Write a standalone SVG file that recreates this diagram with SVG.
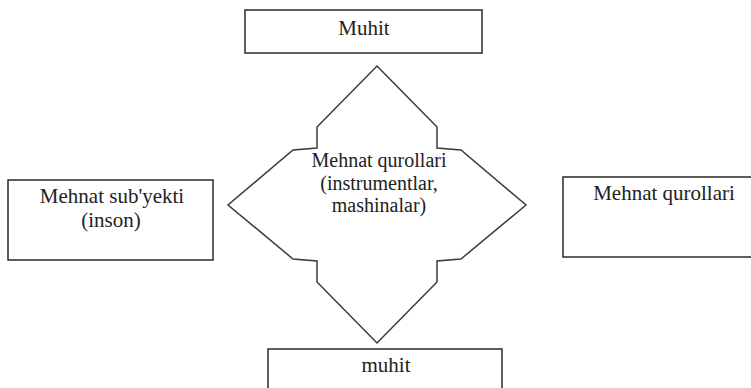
<svg xmlns="http://www.w3.org/2000/svg" width="751" height="388" viewBox="0 0 751 388">
<style>
.box{fill:#fff;stroke:#2a2a2a;stroke-width:1.5}
.shape{fill:#fff;stroke:#3a3a3a;stroke-width:1.5;stroke-linejoin:miter}
.t{font-family:'Liberation Serif','DejaVu Serif','Times New Roman',serif;font-size:21px;fill:#222;text-anchor:middle}
.c{font-size:20px}
</style>
<rect x="0" y="0" width="751" height="388" fill="#fff"/>
<g id="connectors"></g>
<g id="node-muhit-top">
<rect class="box" x="245" y="10" width="237" height="43"/>
<text class="t" x="364" y="35">Muhit</text>
</g>
<g id="node-center">
<path class="shape" d="M377,66 L437,127 L437,148 L461,150 L526,205 L461,259 L437,261 L437,282 L377,343 L317,282 L317,261 L293,259 L228,205 L293,150 L317,148 L317,127 Z"/>
<text class="t c" x="379" y="167">Mehnat qurollari</text>
<text class="t c" x="379" y="189.5">(instrumentlar,</text>
<text class="t c" x="379" y="212">mashinalar)</text>
</g>
<g id="node-subyekt">
<rect class="box" x="8" y="180" width="205" height="80"/>
<text class="t" x="112" y="203">Mehnat sub'yekti</text>
<text class="t" x="111" y="227">(inson)</text>
</g>
<g id="node-qurollar">
<rect class="box" x="563" y="177" width="200" height="80"/>
<text class="t" x="664" y="200">Mehnat qurollari</text>
</g>
<g id="node-muhit-bottom">
<rect class="box" x="268" y="349" width="234" height="60"/>
<text class="t" x="386" y="372">muhit</text>
</g>
</svg>
